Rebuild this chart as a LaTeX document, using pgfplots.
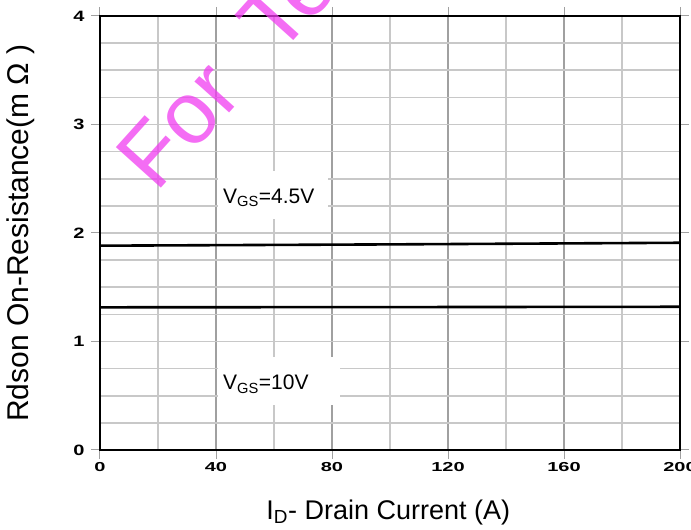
\documentclass[border=0pt]{standalone}
\usepackage{pgfplots}
\pgfplotsset{compat=1.18}
\usepackage{fontspec}
\setmainfont{Liberation Sans}
\definecolor{wm}{RGB}{240,60,240}
\definecolor{gmaj}{RGB}{160,160,160}
\definecolor{gmin}{RGB}{200,200,200}
\begin{document}
\begin{tikzpicture}
\path[use as bounding box] (0,0) rectangle (691pt,530pt);
\begin{axis}[
  at={(100pt,80pt)}, anchor=south west,
  scale only axis, width=580pt, height=434pt,
  xmin=0, xmax=200, ymin=0, ymax=4,
  clip=false,
  /pgf/number format/assume math mode=true,
  axis line style={black, line width=1.8pt},
  xtick={0,40,...,200}, ytick={0,1,2,3,4},
  minor xtick={20,60,100,140,180},
  minor ytick={0.25,0.5,0.75,1.25,1.5,1.75,2.25,2.5,2.75,3.25,3.5,3.75},
  grid=both,
  major x grid style={gmaj, line width=2pt},
  minor x grid style={gmin, line width=2pt},
  major y grid style={gmin, line width=1.6pt},
  minor y grid style={gmin, line width=1.6pt},
  tick align=outside,
  major tick length=9pt, minor tick length=0pt,
  tick style={gmaj, line width=1pt},
  xticklabel={\scalebox{1}[0.65]{\bfseries\fontsize{20}{20}\selectfont\pgfmathprintnumber{\tick}}},
  yticklabel={\scalebox{1}[0.75]{\bfseries\fontsize{20}{20}\selectfont\pgfmathprintnumber{\tick}}},
  xticklabel style={anchor=center, yshift=-8pt},
  yticklabel style={anchor=east, xshift=-3pt},
  xlabel={I\textsubscript{D}- Drain Current (A)},
  xlabel style={font=\fontsize{27}{27}\selectfont, at={(axis description cs:0.497,-0.143)}, anchor=center},
  ylabel={Rdson On-Resistance(m Ω )},
  ylabel style={font=\fontsize{30}{30}\selectfont, at={(axis description cs:-0.136,0.5)}, anchor=center},
]
\addplot[black, line width=2.6pt] coordinates {(0,1.883) (100,1.895) (200,1.91)};
\addplot[black, line width=2.6pt] coordinates {(0,1.315) (100,1.317) (200,1.32)};
\fill[white] (axis cs:40.7,2.129) rectangle (axis cs:78.6,2.571);
\fill[white] (axis cs:40.7,0.415) rectangle (axis cs:82.8,0.857);
\node[anchor=base west, inner sep=0pt, font=\fontsize{21}{21}\selectfont] at (axis cs:42.4,2.276) {V\textsubscript{GS}=4.5V};
\node[anchor=base west, inner sep=0pt, font=\fontsize{21}{21}\selectfont] at (axis cs:42.4,0.553) {V\textsubscript{GS}=10V};
\node[overlay, anchor=base west, inner sep=0pt, rotate=48, text=wm, opacity=0.75, font=\fontsize{88}{88}\selectfont] at (axis cs:19.5,2.36) {For\hspace{0.3em} Test};
\end{axis}
\end{tikzpicture}
\end{document}
